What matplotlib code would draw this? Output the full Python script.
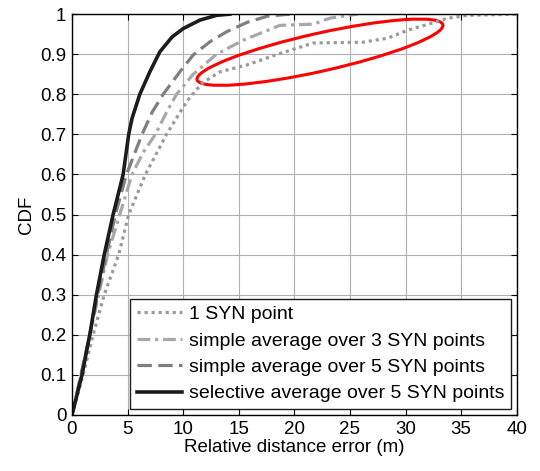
import matplotlib
matplotlib.use("Agg")
import matplotlib.pyplot as plt
from matplotlib.patches import Ellipse
from matplotlib.transforms import Affine2D

plt.rcParams["font.family"] = ["Liberation Sans", "DejaVu Sans"]
plt.rcParams["font.size"] = 13.5

# --- CDF curves (x = error in m, y = CDF) ---
SYN1_X = [0, 1.0, 1.9, 2.9, 4.2, 5.1, 6.6, 8.5, 9.6, 10.4, 11.0, 11.8, 13.3,
          15.7, 18.5, 21.7, 26.2, 28.4, 30.2, 32.3, 33.8, 35.6, 40]
SYN1_Y = [0, 0.1, 0.2, 0.3, 0.4, 0.5, 0.6, 0.7, 0.75, 0.785, 0.805, 0.83,
          0.856, 0.873, 0.9, 0.928, 0.93, 0.94, 0.96, 0.977, 0.99, 0.997, 1.0]

AVG3_X = [0, 0.8, 1.6, 2.4, 3.2, 4.3, 5.4, 6.4, 7.5, 8.5, 9.4, 10.9, 13.0,
          15.4, 18.7, 21.7, 23.2, 25.7]
AVG3_Y = [0, 0.1, 0.2, 0.3, 0.4, 0.5, 0.6, 0.655, 0.7, 0.755, 0.8, 0.85, 0.9,
          0.935, 0.972, 0.975, 0.99, 1.0]

AVG5_X = [0, 0.8, 1.6, 2.3, 3.1, 3.9, 4.9, 6.3, 7.2, 8.2, 9.7, 10.9, 12.4,
          13.9, 15.8, 17.6, 19.6]
AVG5_Y = [0, 0.1, 0.2, 0.3, 0.4, 0.5, 0.6, 0.7, 0.755, 0.8, 0.856, 0.898,
          0.931, 0.956, 0.98, 0.995, 1.0]

SEL5_X = [0, 0.9, 1.6, 2.2, 2.9, 3.7, 4.6, 5.1, 5.4, 6.1, 7.0, 7.9, 9.0, 10.0,
          11.5, 13.0, 14.2]
SEL5_Y = [0, 0.1, 0.2, 0.3, 0.4, 0.5, 0.6, 0.7, 0.74, 0.8, 0.856, 0.906,
          0.943, 0.964, 0.985, 0.997, 1.0]

fig = plt.figure(figsize=(5.4, 4.71), dpi=100)
ax = fig.add_axes([0.1333, 0.1189, 0.8237, 0.8511])

lw = 2.3
ax.plot(SYN1_X, SYN1_Y, color="#9a9a9a", lw=lw, linestyle=(0, (1, 1.2)),
        label="1 SYN point")
ax.plot(AVG3_X, AVG3_Y, color="#a8a8a8", lw=lw, linestyle=(0, (4, 1.5, 1, 1.5)),
        label="simple average over 3 SYN points")
ax.plot(AVG5_X, AVG5_Y, color="#7f7f7f", lw=lw, linestyle=(0, (4.5, 2)),
        label="simple average over 5 SYN points")
ax.plot(SEL5_X, SEL5_Y, color="#1c1c1c", lw=lw + 0.3, linestyle="-",
        label="selective average over 5 SYN points")

# red highlight ellipse (drawn in pixel-like units, mapped into data units)
ell = Ellipse((0, 0), 252, 38, angle=12.6, fill=False, edgecolor="red", lw=2.2)
ell.set_transform(Affine2D().scale(40 / 445, 1 / 401)
                  + Affine2D().translate(22.3, 0.905) + ax.transData)
ax.add_patch(ell)

ax.set_xlim(0, 40)
ax.set_ylim(0, 1)
ax.set_xticks(range(0, 41, 5))
ax.set_yticks([i / 10 for i in range(11)])
ax.set_yticklabels(["0", "0.1", "0.2", "0.3", "0.4", "0.5", "0.6", "0.7",
                    "0.8", "0.9", "1"])
ax.tick_params(direction="in", top=True, right=True, length=4, pad=4)
ax.grid(True, color="#b0b0b0", lw=0.8)
ax.set_axisbelow(True)
for s in ax.spines.values():
    s.set_linewidth(1.0)

ax.set_xlabel("Relative distance error (m)", labelpad=1)
ax.set_ylabel("CDF", labelpad=4)

leg = ax.legend(loc="lower right", fancybox=False, edgecolor="#1c1c1c",
                framealpha=1, handlelength=2.3, handletextpad=0.35,
                borderpad=0.35, labelspacing=0.45, borderaxespad=0.3,
                fontsize=14)
leg.get_frame().set_linewidth(1.0)

fig.savefig("out.png", dpi=100)
